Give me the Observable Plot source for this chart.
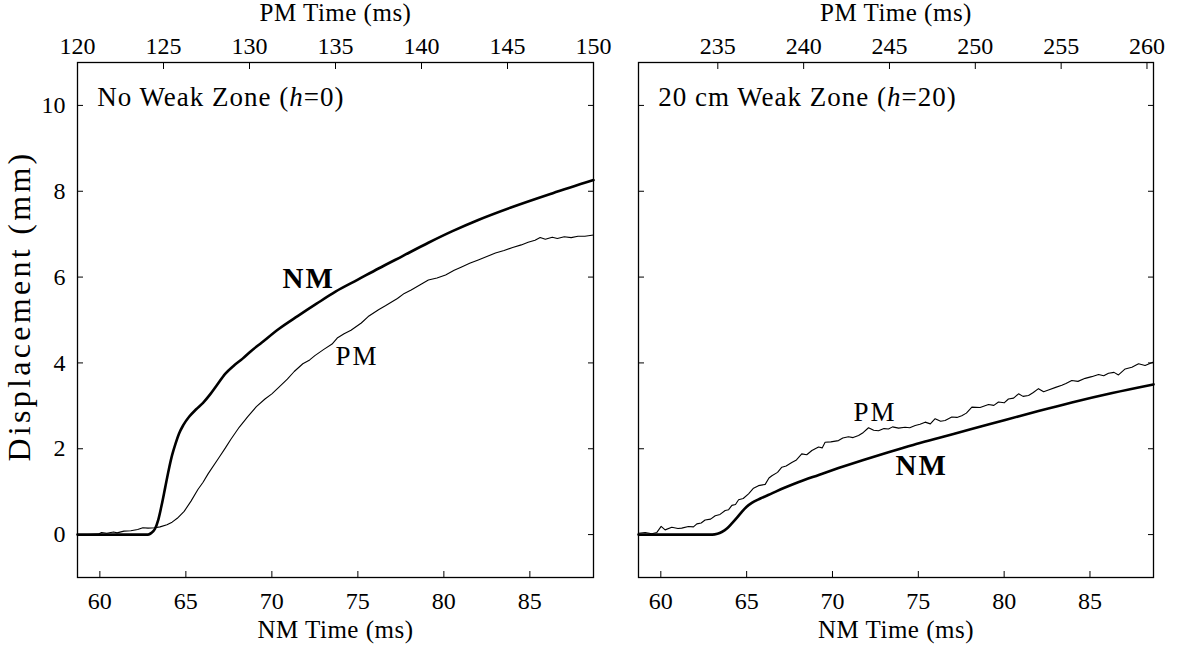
<!DOCTYPE html>
<html><head><meta charset="utf-8">
<script src="https://cdn.jsdelivr.net/npm/d3@7"></script>
<script src="https://cdn.jsdelivr.net/npm/@observablehq/plot@0.6"></script>
<style>
body{margin:0;background:#fff;}
#wrap{position:relative;width:1184px;height:649px;overflow:hidden;}
#left{position:absolute;left:0;top:0;}
#right{position:absolute;left:615px;top:0;}
svg{overflow:visible}
</style></head><body><div id="wrap"><div id="left"></div><div id="right"></div></div>
<script>
// ---- data ----
const nmTicks = [60, 65, 70, 75, 80, 85];
const yTicks = [0, 2, 4, 6, 8, 10];
const pmTicksLeft = [120, 125, 130, 135, 140, 145, 150];
const pmTicksRight = [235, 240, 245, 250, 255, 260];
const pmOffsetLeft = 61.3;    // PM time = NM time + offset
const pmOffsetRight = 171.68;
const xDomain = [58.7, 88.7];
const yDomain = [-1, 11];

const nmLeft = [[58.7,0],[62.8,0],[63.0,0.04],[63.2,0.13],[63.4,0.35],[63.6,0.70],[63.8,1.10],[64.0,1.50],[64.2,1.85],[64.4,2.12],[64.6,2.35],[64.85,2.55],[65.2,2.75],[65.6,2.92],[66.0,3.07],[66.4,3.26],[66.8,3.48],[67.3,3.75],[67.8,3.94],[68.3,4.10],[68.8,4.28],[69.4,4.47],[70.4,4.79],[71.5,5.09],[72.6,5.38],[73.7,5.66],[75.0,5.94],[76.2,6.20],[77.6,6.49],[79.1,6.80],[80.5,7.07],[82.0,7.33],[83.9,7.62],[86.3,7.95],[88.7,8.26]];

const pmLeft = [[58.7,0.00],[59.3,0.00],[59.9,0.01],[60.1,0.05],[60.4,0.03],[60.8,0.06],[61.0,0.04],[61.4,0.08],[61.8,0.09],[62.2,0.12],[62.5,0.16],[62.8,0.15],[63.2,0.16],[63.5,0.18],[63.9,0.23],[64.2,0.29],[64.5,0.38],[64.9,0.54],[65.3,0.78],[65.7,1.05],[66.0,1.22],[66.3,1.42],[66.9,1.78],[67.3,2.02],[67.6,2.21],[68.1,2.50],[68.6,2.75],[69.1,2.98],[69.6,3.16],[70.0,3.28],[70.4,3.43],[70.9,3.62],[71.3,3.80],[71.8,3.98],[72.2,4.07],[72.5,4.17],[73.0,4.31],[73.5,4.44],[73.8,4.58],[74.2,4.68],[74.6,4.76],[75.2,4.93],[75.6,5.08],[76.2,5.24],[76.6,5.33],[77.3,5.50],[77.7,5.62],[78.1,5.70],[78.7,5.84],[79.1,5.93],[79.6,5.98],[80.1,6.05],[80.6,6.16],[81.0,6.23],[81.5,6.32],[82.0,6.40],[82.5,6.48],[83.0,6.56],[83.5,6.62],[84.0,6.69],[84.5,6.75],[84.9,6.81],[85.3,6.86],[85.6,6.92],[85.9,6.88],[86.3,6.93],[86.6,6.90],[87.0,6.94],[87.4,6.92],[87.8,6.95],[88.2,6.95],[88.7,6.98]];

const nmRight = [[58.7,0],[63.0,0],[63.3,0.02],[63.55,0.06],[63.85,0.14],[64.14,0.26],[64.45,0.40],[64.72,0.53],[65.0,0.65],[65.3,0.74],[65.8,0.84],[66.47,0.96],[67.2,1.09],[68.0,1.22],[69.2,1.39],[70.35,1.55],[71.8,1.74],[73.26,1.92],[74.7,2.09],[76.18,2.25],[78.1,2.46],[80.06,2.67],[82.0,2.88],[83.94,3.08],[86.3,3.30],[88.7,3.50]];

const pmRight = [[58.7,0.03],[59.09,0.05],[59.48,0.02],[59.77,0.05],[60.02,0.19],[60.25,0.11],[60.64,0.17],[61.0,0.14],[61.22,0.15],[61.61,0.19],[61.9,0.18],[62.1,0.25],[62.35,0.27],[62.58,0.34],[62.9,0.36],[63.17,0.44],[63.45,0.47],[63.75,0.56],[63.95,0.58],[64.14,0.68],[64.35,0.70],[64.53,0.81],[64.8,0.84],[65.11,0.95],[65.4,1.08],[65.69,1.14],[66.08,1.17],[66.3,1.32],[66.47,1.37],[66.8,1.45],[67.05,1.57],[67.3,1.60],[67.63,1.68],[67.9,1.74],[68.21,1.88],[68.5,1.86],[68.8,1.96],[69.19,2.04],[69.4,2.02],[69.57,2.15],[69.9,2.16],[70.35,2.19],[70.6,2.25],[70.93,2.28],[71.2,2.26],[71.52,2.31],[71.8,2.38],[72.1,2.49],[72.4,2.43],[72.68,2.42],[73.0,2.47],[73.26,2.46],[73.5,2.51],[73.85,2.48],[74.23,2.50],[74.5,2.49],[74.82,2.54],[75.1,2.57],[75.4,2.62],[75.7,2.58],[75.98,2.70],[76.3,2.64],[76.56,2.66],[76.95,2.74],[77.25,2.73],[77.53,2.77],[77.8,2.83],[78.12,2.97],[78.6,2.96],[79.09,3.03],[79.4,3.01],[79.67,3.09],[80.0,3.07],[80.25,3.16],[80.55,3.18],[80.84,3.28],[81.1,3.22],[81.42,3.24],[81.7,3.31],[82.0,3.40],[82.3,3.33],[82.58,3.37],[83.0,3.43],[83.36,3.48],[83.6,3.52],[83.94,3.59],[84.3,3.57],[84.72,3.64],[85.1,3.68],[85.5,3.73],[85.8,3.70],[86.08,3.76],[86.4,3.78],[86.66,3.72],[87.05,3.86],[87.44,3.90],[87.83,3.98],[88.21,3.94],[88.7,4.02]];

const FONT = "'Liberation Serif', 'Times New Roman', serif";

function panel({nm, pm, pmTicks, pmOffset, title, nmLabel, pmLabel, showY, width, marginLeft, marginRight}) {
  const pmPos = pmTicks.map(p => p - pmOffset);
  const marks = [
    Plot.frame({stroke: "black", strokeWidth: 1.3}),
    Plot.axisX({ticks: nmTicks, anchor: "bottom", tickSize: 0, tickPadding: 14, label: null}),
    Plot.axisX({ticks: nmTicks, anchor: "bottom", tickSize: -6, tickFormat: () => "", label: null}),
    Plot.axisX({ticks: pmPos, anchor: "top", tickSize: 0, tickPadding: 9, tickFormat: d => Math.round(d + pmOffset), label: null}),
    Plot.axisX({ticks: pmPos, anchor: "top", tickSize: -6, tickFormat: () => "", label: null}),
    Plot.axisY({ticks: yTicks, anchor: "left", tickSize: -6, tickFormat: () => "", label: null}),
    Plot.axisY({ticks: yTicks, anchor: "right", tickSize: -6, tickFormat: () => "", label: null}),
    Plot.text(["NM Time (ms)"], {frameAnchor: "bottom", lineAnchor: "middle", textAnchor: "middle", dy: 52, fontSize: 25, className: "xlab"}),
    Plot.text(["PM Time (ms)"], {frameAnchor: "top", lineAnchor: "middle", textAnchor: "middle", dy: -50, fontSize: 25, className: "xlab"}),
    Plot.line(pm, {x: d => d[0], y: d => d[1], stroke: "black", strokeWidth: 1.1}),
    Plot.line(nm, {x: d => d[0], y: d => d[1], stroke: "black", strokeWidth: 2.6, curve: "monotone-x"}),
    Plot.text([title], {x: xDomain[0] + 1.15, y: 10.18, textAnchor: "start", fontSize: 27, className: "ptitle"}),
    Plot.text(["NM"], {x: nmLabel[0], y: nmLabel[1], fontWeight: "bold", fontSize: 29, className: "lab"}),
    Plot.text(["PM"], {x: pmLabel[0], y: pmLabel[1], fontSize: 27, className: "lab"})
  ];
  if (showY) {
    marks.push(Plot.axisY({ticks: yTicks, anchor: "left", tickSize: 0, tickPadding: 12, label: null}));
    marks.push(Plot.text(["Displacement (mm)"], {frameAnchor: "left", textAnchor: "middle", lineAnchor: "middle", dx: -58, dy: -14, rotate: -90, fontSize: 32, className: "ylab"}));
  } else {
    marks.push(Plot.axisY({ticks: yTicks, anchor: "left", tickSize: 0, tickFormat: () => "", label: null}));
  }
  const svg = Plot.plot({
    width, height: 649,
    marginLeft, marginRight, marginTop: 62, marginBottom: 72,
    style: {fontFamily: FONT, fontSize: "24px", color: "black", background: "white", overflow: "visible"},
    x: {domain: xDomain},
    y: {domain: yDomain},
    marks
  });
  const s = d3.select(svg);
  // italic h in the panel title
  s.selectAll(".ptitle text").each(function () {
    const t = this.textContent;
    const m = t.match(/^(.*\()h(=.*)$/);
    if (m) {
      const sel = d3.select(this);
      sel.text("");
      sel.append("tspan").text(m[1]);
      sel.append("tspan").attr("font-style", "italic").text("h");
      sel.append("tspan").text(m[2]);
    }
  });
  // wider letter spacing to approach the Computer Modern widths of the original
  s.selectAll(".ptitle").attr("letter-spacing", "1px");
  s.selectAll(".lab").attr("letter-spacing", "2px");
  s.selectAll(".xlab").attr("letter-spacing", "0.5px");
  s.selectAll(".ylab").attr("letter-spacing", "3.3px");
  return svg;
}

document.getElementById("left").appendChild(panel({
  nm: nmLeft, pm: pmLeft, pmTicks: pmTicksLeft, pmOffset: pmOffsetLeft,
  title: "No Weak Zone (h=0)", nmLabel: [72.14, 5.97], pmLabel: [74.95, 4.16],
  showY: true, width: 615, marginLeft: 77, marginRight: 22
}));
document.getElementById("right").appendChild(panel({
  nm: nmRight, pm: pmRight, pmTicks: pmTicksRight, pmOffset: pmOffsetRight,
  title: "20 cm Weak Zone (h=20)", nmLabel: [75.2, 1.61], pmLabel: [72.48, 2.85],
  showY: false, width: 569, marginLeft: 23, marginRight: 31
}));
</script></body></html>
